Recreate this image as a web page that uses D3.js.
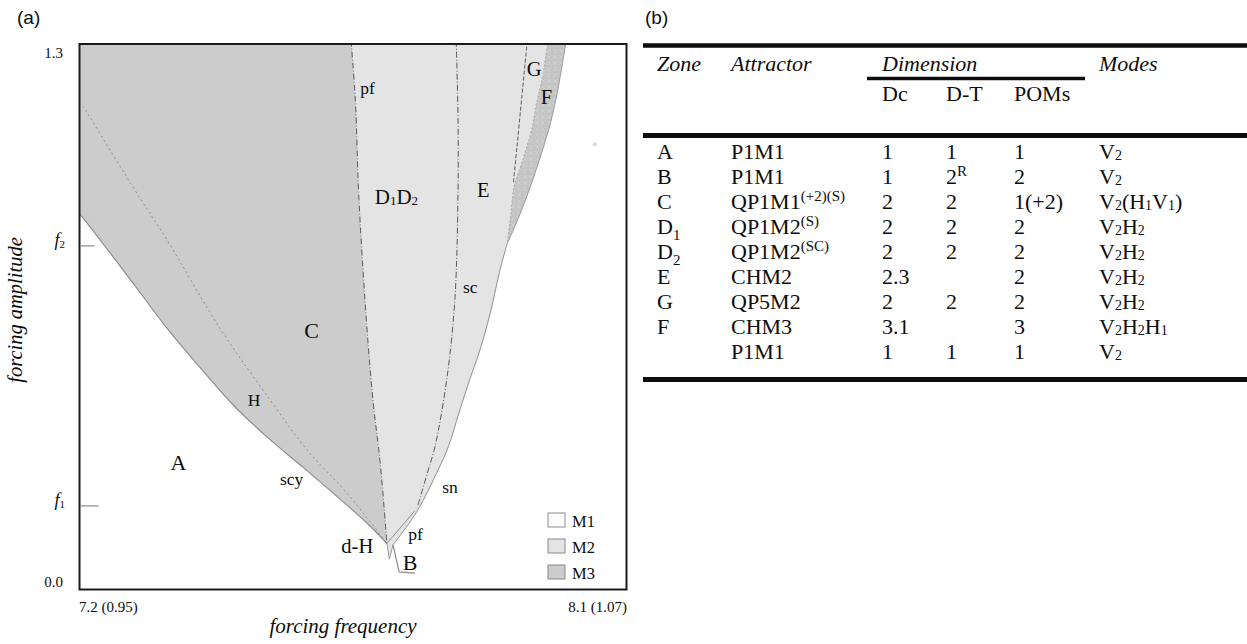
<!DOCTYPE html>
<html><head><meta charset="utf-8">
<script src="https://cdn.jsdelivr.net/npm/d3@7"></script>
<style>body{margin:0;background:#fff}svg{display:block}</style>
</head><body>
<svg id="chart" width="1247" height="644"></svg>
<script>
// ---------------- data: (forcing frequency, forcing amplitude) ----------------
const freqDomain = [7.2, 8.1];
const ampDomain = [0.0, 1.3];
const xTickValues = [7.2, 8.1];
const xTickLabels = ["7.2 (0.95)", "8.1 (1.07)"];
const yTickValues = [0.0, 0.187, 0.826, 1.3];
const yTickLabels = ["0.0", "f1", "f2", "1.3"];

// boundary curves
const scyCurve = [[7.200,0.904],[7.233,0.841],[7.287,0.735],[7.343,0.624],[7.397,0.528],[7.452,0.435],[7.508,0.356],[7.562,0.288],[7.616,0.219],[7.672,0.145],[7.705,0.095]];
const hopfCurve = [[7.205,1.170],[7.287,0.971],[7.343,0.841],[7.430,0.624],[7.513,0.447],[7.574,0.324],[7.639,0.219],[7.705,0.095]];
const pfUpper = [[7.646,1.33],[7.653,1.185],[7.659,0.939],[7.672,0.627],[7.682,0.447],[7.694,0.292],[7.705,0.095]];
const scCurve = [[7.819,1.33],[7.822,1.135],[7.822,0.963],[7.817,0.700],[7.804,0.504],[7.784,0.332],[7.773,0.275],[7.755,0.184]];
const snCurve = [[7.715,0.091],[7.755,0.175],[7.789,0.275],[7.806,0.332],[7.824,0.418],[7.842,0.501],[7.858,0.570],[7.875,0.661],[7.891,0.767],[7.903,0.832]];
const gBoundary = [[7.936,1.33],[7.927,1.193],[7.919,1.070],[7.913,0.980]];
const fLeft = [[7.970,1.33],[7.960,1.234],[7.951,1.176],[7.943,1.111],[7.932,1.054],[7.921,1.004],[7.914,0.972],[7.909,0.906],[7.903,0.832]];
const fRight = [[8.000,1.33],[7.984,1.193],[7.971,1.111],[7.954,1.029],[7.935,0.947],[7.913,0.865],[7.903,0.832]];
const cuspSpike = [[7.705,0.095],[7.709,0.056],[7.715,0.091]];
const pfLower = [[7.705,0.095],[7.751,0.175]];
const bLine = [[7.715,0.091],[7.725,0.025],[7.751,0.022]];
const speck = [[8.047,1.076]];

// annotations (text, anchor frequency, anchor amplitude, kind)
const labelText = ["A","C","E","G","F","B","H","scy","d-H","sn","pf","pf","sc"];
const labelFreq = [7.349,7.569,7.853,7.935,7.958,7.731,7.476,7.529,7.630,7.796,7.740,7.661,7.830];
const labelAmp  = [0.275,0.600,0.946,1.244,1.175,0.030,0.433,0.238,0.071,0.219,0.103,1.199,0.710];
const labelKind = ["zone","zone","mid","mid","mid","zone","small","small","mid","small","small","small","small"];
const dLabel = {freq:7.685, amp:0.929};

// legend
const modeNames = ["M1","M2","M3"];

// table (b)
const zoneMain = ["A","B","C","D","D","E","G","F",""];
const zoneSub  = ["","","","1","2","","","",""];
const attractor = ["P1M1","P1M1","QP1M1","QP1M2","QP1M2","CHM2","QP5M2","CHM3","P1M1"];
const attractorSup = ["","","(+2)(S)","(S)","(SC)","","","",""];
const dimDc = ["1","1","2","2","2","2.3","2","3.1","1"];
const dimDT = ["1","2","2","2","2","","2","","1"];
const dimDTSup = ["","R","","","","","","",""];
const dimPOMs = ["1","2","1(+2)","2","2","2","2","3","1"];
const modes = ["V2","V2","V2(H1V1)","V2H2","V2H2","V2H2","V2H2","V2H2H1","V2"];

// ---------------- drawing ----------------
const serif = "'Liberation Serif','Times New Roman',serif";
const modeColors = ["#ffffff","#e4e4e4","#cccccc"];
const ink = "#0d0d0d";
const svg = d3.select("#chart");
svg.append("rect").attr("width",1247).attr("height",644).attr("fill","#fff");

const x = d3.scaleLinear().domain(freqDomain).range([80, 627]);
const y = d3.scaleLinear().domain(ampDomain).range([582, 53]);
const fL = x(freqDomain[0]) - 0.5, fR = x(freqDomain[1]) - 0.5;
const fT = y(ampDomain[1]) - 9, fB = y(ampDomain[0]) + 7.5;

const defs = svg.append("defs");
defs.append("clipPath").attr("id","plotClip").append("rect")
  .attr("x",fL).attr("y",fT).attr("width",fR-fL).attr("height",fB-fT);
const pat = defs.append("pattern").attr("id","fTex").attr("width",6).attr("height",6)
  .attr("patternUnits","userSpaceOnUse");
pat.append("rect").attr("width",6).attr("height",6).attr("fill","#c4c4c4");
pat.append("path").attr("d","M1,1L5,5M5,1L1,5").attr("stroke","#d6d6d6").attr("stroke-width",0.6);

const straight = d3.line().x(d => x(d[0])).y(d => y(d[1]));
const smooth = d3.line().x(d => x(d[0])).y(d => y(d[1])).curve(d3.curveCatmullRom.alpha(0.5));
const joinPath = segs => segs.map(([pts, gen], i) => {
  const d = gen(pts); return i ? d.replace(/^M/, "L") : d; }).join("") + "Z";
const plot = svg.append("g").attr("clip-path","url(#plotClip)");

// regions
const regionC = joinPath([[[[freqDomain[0], 1.33], pfUpper[0]], straight], [pfUpper, smooth], [scyCurve.slice().reverse(), smooth]]);
const regionM2 = joinPath([[pfUpper, smooth], [cuspSpike, straight], [snCurve, smooth], [fLeft.slice().reverse(), smooth]]);
const regionF = joinPath([[fLeft, smooth], [fRight.slice().reverse(), smooth]]);
plot.append("path").attr("d", regionC).attr("fill", modeColors[2]);
plot.append("path").attr("d", regionM2).attr("fill", modeColors[1]);
plot.append("path").attr("d", regionF).attr("fill", "url(#fTex)");

// boundary lines
const strokes = [
  [scyCurve, "#8f8f8f", 1.2, null, smooth],
  [hopfCurve, "#8a8a8a", 1, "2,3", smooth],
  [pfUpper, "#4a4a4a", 0.9, "6,2,1,2", smooth],
  [scCurve, "#4a4a4a", 0.9, "6,2,1,2", smooth],
  [snCurve, "#8f8f8f", 1, null, smooth],
  [gBoundary, "#4a4a4a", 0.9, "4,2", smooth],
  [fLeft, "#9a9a9a", 0.8, "2,2", smooth],
  [fRight, "#9a9a9a", 1, null, smooth],
  [cuspSpike, "#999", 1, null, straight],
  [pfLower, "#8f8f8f", 1, null, straight],
  [bLine, "#8a8a8a", 1.2, null, straight]
];
strokes.forEach(([pts, c, w, dash, gen]) => {
  const p = plot.append("path").attr("d", gen(pts)).attr("fill","none")
    .attr("stroke", c).attr("stroke-width", w);
  if (dash) p.attr("stroke-dasharray", dash);
});
plot.selectAll("circle.speck").data(speck).join("circle").attr("class","speck")
  .attr("cx", d => x(d[0])).attr("cy", d => y(d[1])).attr("r", 2).attr("fill", "#d6d6d6");

// labels
const kindSize = {zone: 22, mid: 20.5, small: 17.5};
labelText.forEach((t, i) => {
  svg.append("text").attr("x", x(labelFreq[i])).attr("y", y(labelAmp[i]))
    .attr("font-family", serif).attr("font-size", kindSize[labelKind[i]]).attr("fill", ink).text(t);
});
const dT = svg.append("text").attr("x", x(dLabel.freq)).attr("y", y(dLabel.amp))
  .attr("font-family", serif).attr("font-size", 21).attr("fill", ink);
dT.append("tspan").text("D");
dT.append("tspan").attr("font-size", 13).attr("dy", 1).text("1");
dT.append("tspan").attr("dy", -1).text("D");
dT.append("tspan").attr("font-size", 13).attr("dy", 1).text("2");

// frame
svg.append("rect").attr("x", fL).attr("y", fT).attr("width", fR - fL).attr("height", fB - fT)
  .attr("fill","none").attr("stroke","#1a1a1a").attr("stroke-width", 2);

// y ticks
yTickValues.forEach((v, i) => {
  const lab = yTickLabels[i];
  if (lab.startsWith("f")) {
    svg.append("line").attr("x1", fL + 1).attr("x2", fL + (i === 1 ? 19 : 15))
      .attr("y1", y(v)).attr("y2", y(v)).attr("stroke","#8a8a8a").attr("stroke-width",1.2);
    const t = svg.append("text").attr("x", 65).attr("y", y(v)).attr("text-anchor","end")
      .attr("font-family", serif).attr("fill", ink);
    t.append("tspan").attr("font-style","italic").attr("font-size",18).text("f");
    t.append("tspan").attr("font-size",11).attr("dy",2).text(lab.slice(1));
  } else {
    svg.append("text").attr("x", 63).attr("y", y(v) + 5).attr("text-anchor","end")
      .attr("font-family", serif).attr("font-size", 15).attr("fill", ink).text(lab);
  }
});
// x ticks
xTickValues.forEach((v, i) => {
  svg.append("text").attr("x", i === 0 ? x(v) - 1 : x(v))
    .attr("y", y(ampDomain[0]) + 30).attr("text-anchor", i === 0 ? "start" : "end")
    .attr("font-family", serif).attr("font-size", 15).attr("fill", ink).text(xTickLabels[i]);
});
// axis titles
svg.append("text").attr("x", 343).attr("y", 633).attr("text-anchor","middle")
  .attr("font-family", serif).attr("font-style","italic").attr("font-size", 21).attr("fill", ink)
  .text("forcing frequency");
svg.append("text").attr("transform","translate(22,310) rotate(-90)").attr("text-anchor","middle")
  .attr("font-family", serif).attr("font-style","italic").attr("font-size", 20.5).attr("fill", ink)
  .text("forcing amplitude");

// legend
const legX = x(freqDomain[1]) - 79;
modeNames.forEach((m, i) => {
  svg.append("rect").attr("x", legX).attr("y", 513 + 26 * i).attr("width", 17).attr("height", 14)
    .attr("fill", modeColors[i]).attr("stroke", "#8a8a8a").attr("stroke-width", 1);
  svg.append("text").attr("x", legX + 24).attr("y", 527 + 26 * i)
    .attr("font-family", serif).attr("font-size", 16.5).attr("fill", ink).text(m);
});

// panel labels
const sans = "'Liberation Sans',Arial,sans-serif";
svg.append("text").attr("x", 17).attr("y", 24).attr("font-family", sans).attr("font-size", 19).attr("fill", ink).text("(a)");
svg.append("text").attr("x", 645).attr("y", 24).attr("font-family", sans).attr("font-size", 19).attr("fill", ink).text("(b)");

// ---------------- table ----------------
const tb = svg.append("g").attr("font-family", serif).attr("fill", ink);
const colX = {zone: 657, attr: 731, dc: 882, dt: 946, poms: 1014, modes: 1099};
const rule = (x1, x2, yy, w) => tb.append("line").attr("x1", x1).attr("x2", x2).attr("y1", yy).attr("y2", yy)
  .attr("stroke", ink).attr("stroke-width", w);
rule(643, 1247, 45.5, 4.5);
rule(867, 1085, 78.5, 3.5);
rule(643, 1247, 135.5, 5);
rule(643, 1247, 379.5, 5);
const fs = 22;
const hdr = [["Zone", colX.zone], ["Attractor", colX.attr], ["Dimension", colX.dc], ["Modes", colX.modes]];
hdr.forEach(([t, xx]) => tb.append("text").attr("x", xx).attr("y", 71).attr("font-style","italic").attr("font-size", fs).text(t));
[["Dc", colX.dc], ["D-T", colX.dt], ["POMs", colX.poms]].forEach(([t, xx]) =>
  tb.append("text").attr("x", xx).attr("y", 101).attr("font-size", fs).text(t));

zoneMain.forEach((z, i) => {
  const yy = 159 + 25 * i;
  const tz = tb.append("text").attr("x", colX.zone).attr("y", yy).attr("font-size", fs);
  tz.append("tspan").text(z);
  if (zoneSub[i]) tz.append("tspan").attr("font-size", 15).attr("dy", 6).text(zoneSub[i]);
  const ta = tb.append("text").attr("x", colX.attr).attr("y", yy).attr("font-size", fs);
  ta.append("tspan").text(attractor[i]);
  if (attractorSup[i]) ta.append("tspan").attr("font-size", 15).attr("dy", -8).text(attractorSup[i]);
  tb.append("text").attr("x", colX.dc).attr("y", yy).attr("font-size", fs).text(dimDc[i]);
  const tt = tb.append("text").attr("x", colX.dt).attr("y", yy).attr("font-size", fs);
  tt.append("tspan").text(dimDT[i]);
  if (dimDTSup[i]) tt.append("tspan").attr("font-size", 15).attr("dy", -8).text(dimDTSup[i]);
  tb.append("text").attr("x", colX.poms).attr("y", yy).attr("font-size", fs).text(dimPOMs[i]);
  const tm = tb.append("text").attr("x", colX.modes).attr("y", yy).attr("font-size", fs);
  let low = false;
  modes[i].split("").forEach(ch => {
    const isDigit = /[0-9]/.test(ch);
    const sp = tm.append("tspan").text(ch);
    if (isDigit) { sp.attr("font-size", 14); if (!low) { sp.attr("dy", 1); low = true; } }
    else if (low) { sp.attr("dy", -1); low = false; }
  });
});
</script>
</body></html>
